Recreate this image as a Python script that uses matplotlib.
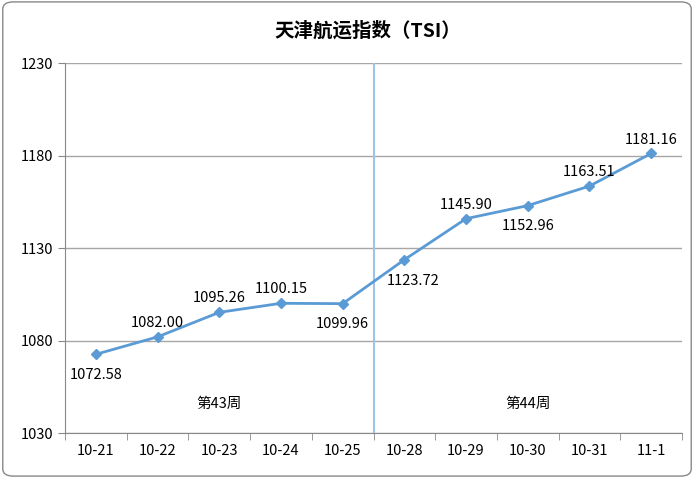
import matplotlib.pyplot as plt
from matplotlib.patches import FancyBboxPatch

plt.rcParams['font.family'] = ['Noto Sans CJK SC', 'DejaVu Sans']

dates = ["10-21", "10-22", "10-23", "10-24", "10-25", "10-28", "10-29", "10-30", "10-31", "11-1"]
tsi = [1072.58, 1082.00, 1095.26, 1100.15, 1099.96, 1123.72, 1145.90, 1152.96, 1163.51, 1181.16]
# where each value label sits relative to its point: (dx, dy) in points
label_pos = ["below", "above", "above", "above", "below", "below", "above", "below", "above", "above"]
weeks = ["第43周", "第44周"]

fig = plt.figure(figsize=(6.94, 4.78), dpi=100)
fig.patches.append(FancyBboxPatch((0.004, 0.004), 0.992, 0.992, boxstyle="round,pad=0,rounding_size=0.015",
                                  transform=fig.transFigure, fill=False, ec="#888888", lw=1))
ax = fig.add_axes([0.0937, 0.094, 0.889, 0.774])

x = list(range(len(dates)))
ax.plot(x, tsi, color="#5B9BD5", lw=2, marker="D", ms=5, zorder=3)

for i, v in enumerate(tsi):
    off = 10 if label_pos[i] == "above" else -15
    dx = 0
    if i == 5:
        dx = 6
    ax.annotate(f"{v:.2f}", (i, v), xytext=(dx, off), textcoords="offset points",
                ha="center", va="center", fontsize=10.5)

ax.axvline(4.5, color="#9DC3E6", lw=1.5)
ax.text(2, 1046, weeks[0], ha="center", va="center", fontsize=10.5)
ax.text(7, 1046, weeks[1], ha="center", va="center", fontsize=10.5)

ax.set_xlim(-0.5, len(dates) - 0.5)
ax.set_ylim(1030, 1230)
ax.set_yticks(range(1030, 1231, 50))
ax.yaxis.grid(True, color="#A6A6A6", lw=1)
ax.set_axisbelow(True)
ax.set_xticks(x)
ax.set_xticklabels(dates)
ax.set_xticks([i + 0.5 for i in range(-1, len(dates))], minor=True)
ax.tick_params(axis="x", which="major", length=0, labelsize=10.5, pad=8)
ax.tick_params(axis="x", which="minor", length=5, color="#888888")
ax.tick_params(axis="y", length=5, color="#888888", labelsize=10.5)
for s in ["top", "right"]:
    ax.spines[s].set_visible(False)
for s in ["left", "bottom"]:
    ax.spines[s].set_color("#888888")

fig.text(0.53, 0.935, "天津航运指数（TSI）", ha="center", va="center", fontsize=14, fontweight="bold")

fig.savefig("out.png", dpi=100)
